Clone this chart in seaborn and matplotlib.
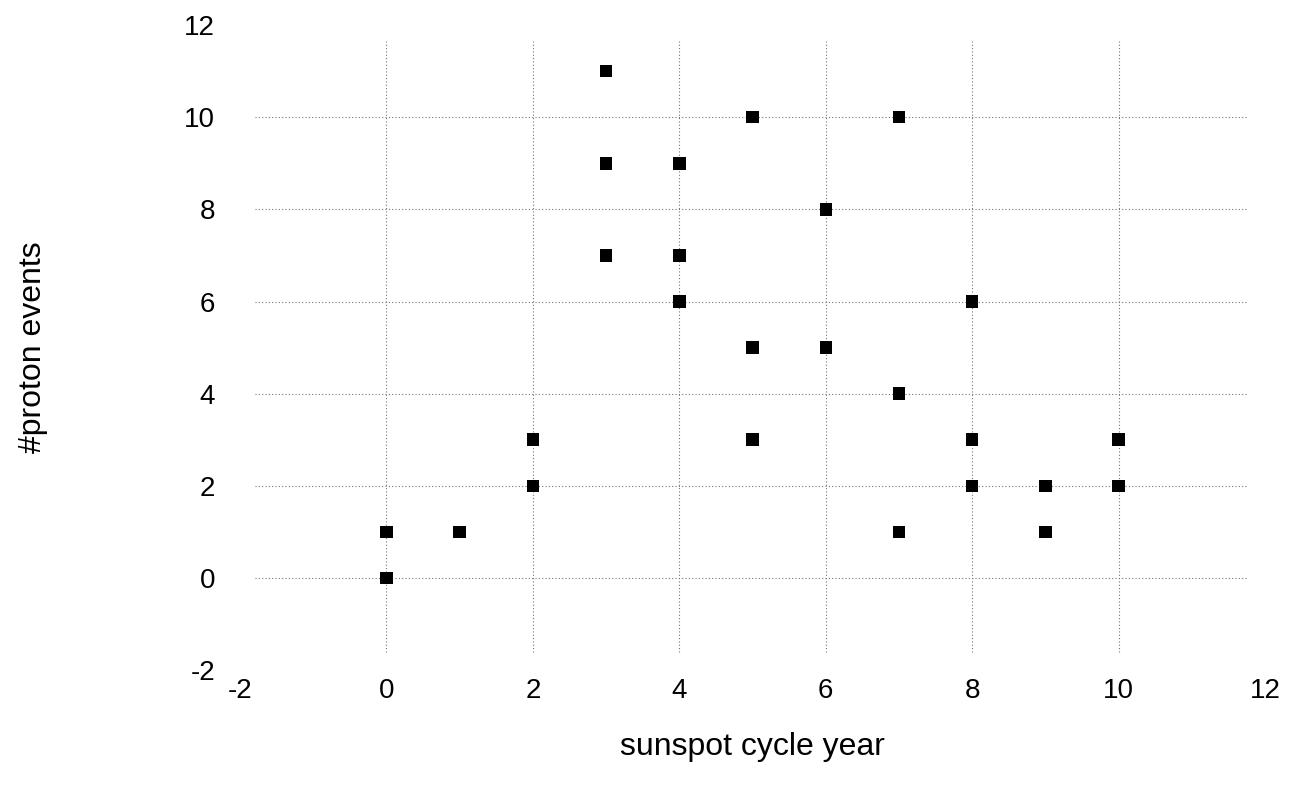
import matplotlib
matplotlib.use('Agg')
from matplotlib import pyplot as plt
import seaborn as sns
import pandas as pd

sns.set_style('white')
plt.rcParams['font.family'] = ['Liberation Sans', 'DejaVu Sans']
plt.rcParams['axes.unicode_minus'] = False
plt.rcParams['text.color'] = 'black'
plt.rcParams['axes.labelcolor'] = 'black'
plt.rcParams['xtick.color'] = 'black'
plt.rcParams['ytick.color'] = 'black'

# sunspot cycle year vs number of proton events
cycle_year = [0, 0, 1, 2, 2, 3, 3, 3, 4, 4, 4, 5, 5, 5, 6, 6, 7, 7, 7, 8, 8, 8, 9, 9, 10, 10]
proton_events = [1, 0, 1, 3, 2, 11, 9, 7, 9, 7, 6, 10, 5, 3, 8, 5, 10, 4, 1, 6, 3, 2, 2, 1, 3, 2]
tick_values = [-2, 0, 2, 4, 6, 8, 10, 12]
grid_values = [0, 2, 4, 6, 8, 10]

df = pd.DataFrame({'sunspot cycle year': cycle_year, '#proton events': proton_events})

fig = plt.figure(figsize=(12.93, 7.86), dpi=100)
ax = fig.add_axes([0.1856, 0.1476, 0.7928, 0.8204])

# dotted grid, stopping short of the axis limits like the original
ax.hlines(grid_values, -1.8, 11.75, colors='0.45', linestyles=(0, (1, 2)), linewidth=0.8, zorder=1)
ax.vlines(grid_values, -1.6, 11.65, colors='0.45', linestyles=(0, (1, 2)), linewidth=0.8, zorder=1)

sns.scatterplot(data=df, x='sunspot cycle year', y='#proton events', marker='s',
                color='black', edgecolor='none', s=80, ax=ax, zorder=3)

ax.set_xlim(-2, 12)
ax.set_ylim(-2, 12)
ax.set_xticks(tick_values)
ax.set_yticks(tick_values)
ax.tick_params(axis='both', length=0, labelsize=20)
ax.tick_params(axis='x', pad=6)
ax.tick_params(axis='y', pad=18)
for s in ax.spines.values():
    s.set_visible(False)

ax.set_xlabel('sunspot cycle year', fontsize=23, labelpad=20)
ax.set_ylabel('#proton events', fontsize=23, labelpad=98)

fig.savefig('out.png', dpi=100)
